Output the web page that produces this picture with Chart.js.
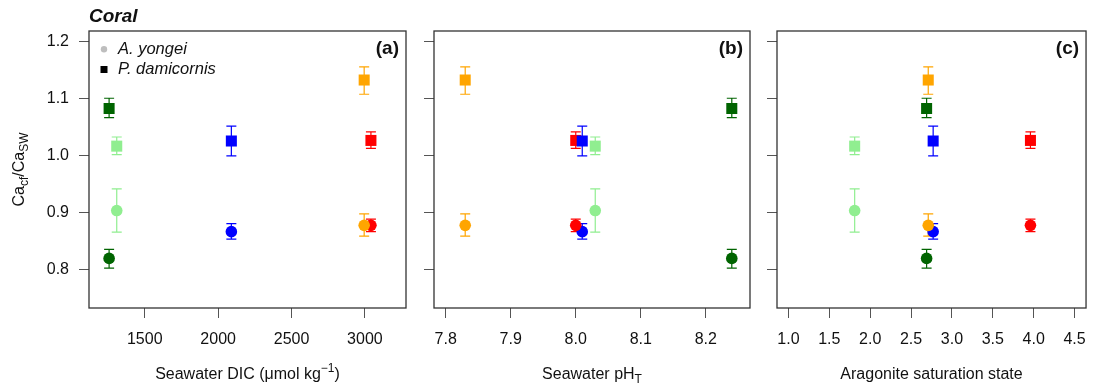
<!DOCTYPE html>
<html>
<head>
<meta charset="utf-8">
<script src="https://cdn.jsdelivr.net/npm/chart.js@4.4.1/dist/chart.umd.min.js"></script>
<style>
body { margin: 0; background: #fff; width: 1098px; height: 391px; overflow: hidden; position: relative; }
canvas { position: absolute; top: 0; }
</style>
</head>
<body>
<canvas id="pa" width="415" height="391" style="left:0px"></canvas>
<canvas id="pb" width="345" height="391" style="left:415px"></canvas>
<canvas id="pc" width="338" height="391" style="left:760px"></canvas>
<script>
// treatments, in the same order in every array below
const treatments = ['darkgreen', 'lightgreen', 'blue', 'orange', 'red'];
const colours = ['#006400', '#90ee90', '#0000ff', '#ffa500', '#ff0000'];

// seawater chemistry of each treatment
const dic = [1257, 1309, 2090, 2995, 3041];
const phT = [8.24, 8.03, 8.01, 7.83, 8.00];
const omega = [2.69, 1.81, 2.77, 2.71, 3.96];

// Ca_cf/Ca_sw, A. yongei (circles)
const yongei = [0.819, 0.903, 0.866, 0.877, 0.877];
const yongeiLo = [0.802, 0.865, 0.853, 0.858, 0.866];
const yongeiHi = [0.835, 0.941, 0.880, 0.897, 0.888];

// Ca_cf/Ca_sw, P. damicornis (squares)
const damicornis = [1.082, 1.016, 1.025, 1.132, 1.026];
const damicornisLo = [1.066, 1.001, 0.999, 1.107, 1.012];
const damicornisHi = [1.100, 1.032, 1.051, 1.155, 1.041];

// ticks
const yTicks = [0.8, 0.9, 1.0, 1.1, 1.2];
const dicTicks = [1500, 2000, 2500, 3000];
const phTicks = [7.8, 7.9, 8.0, 8.1, 8.2];
const omegaTicks = [1.0, 1.5, 2.0, 2.5, 3.0, 3.5, 4.0, 4.5];

// draw order, bottom first
const circleOrder = [0, 1, 2, 4, 3];
const squareOrder = [0, 1, 3, 4, 2];

const FONT = '"Liberation Sans", Arial, Helvetica, sans-serif';
const INK = '#111';

function richText(ctx, parts, x, y, size, rotate) {
    ctx.save();
    ctx.translate(x, y);
    if (rotate) ctx.rotate(-Math.PI / 2);
    const small = Math.round(size * 0.72);
    let w = 0;
    parts.forEach(p => {
        ctx.font = (p.sub || p.sup ? small : size) + 'px ' + FONT;
        w += ctx.measureText(p.t).width;
    });
    let cx = -w / 2;
    ctx.textAlign = 'left';
    ctx.textBaseline = 'alphabetic';
    ctx.fillStyle = INK;
    parts.forEach(p => {
        ctx.font = (p.sub || p.sup ? small : size) + 'px ' + FONT;
        const dy = p.sub ? size * 0.28 : (p.sup ? -size * 0.42 : 0);
        ctx.fillText(p.t, cx, size * 0.36 + dy);
        cx += ctx.measureText(p.t).width;
    });
    ctx.restore();
}

function buildDatasets(xs) {
    let sets = [];
    let k = 0;
    circleOrder.forEach(i => {
        sets.push({
            label: 'A. yongei ' + treatments[i],
            data: [{ x: xs[i], y: yongei[i] }],
            lo: [yongeiLo[i]], hi: [yongeiHi[i]],
            pointStyle: 'circle', pointRadius: 5.8,
            backgroundColor: colours[i], borderWidth: 0,
            order: 40 - k++
        });
    });
    squareOrder.forEach(i => {
        sets.push({
            label: 'P. damicornis ' + treatments[i],
            data: [{ x: xs[i], y: damicornis[i] }],
            lo: [damicornisLo[i]], hi: [damicornisHi[i]],
            pointStyle: 'rect', pointRadius: 7.8,
            backgroundColor: colours[i], borderWidth: 0,
            order: 40 - k++
        });
    });
    return sets;
}

const errorBars = {
    id: 'errorBars',
    beforeDatasetsDraw(chart) {
        const ctx = chart.ctx;
        const xs = chart.scales.x, ys = chart.scales.y;
        ctx.save();
        ctx.lineWidth = 1.2;
        chart.data.datasets.forEach(ds => {
            ds.data.forEach((p, j) => {
                const x = xs.getPixelForValue(p.x);
                const y1 = ys.getPixelForValue(ds.lo[j]);
                const y2 = ys.getPixelForValue(ds.hi[j]);
                ctx.strokeStyle = ds.backgroundColor;
                ctx.beginPath();
                ctx.moveTo(x, y1); ctx.lineTo(x, y2);
                ctx.moveTo(x - 5, y1); ctx.lineTo(x + 5, y1);
                ctx.moveTo(x - 5, y2); ctx.lineTo(x + 5, y2);
                ctx.stroke();
            });
        });
        ctx.restore();
    }
};

const frame = {
    id: 'frame',
    afterDraw(chart, args, opts) {
        const ctx = chart.ctx;
        const a = chart.chartArea;
        ctx.save();
        ctx.strokeStyle = '#333';
        ctx.lineWidth = 1.3;
        ctx.strokeRect(a.left, a.top, a.right - a.left, a.bottom - a.top);
        // panel letter
        ctx.fillStyle = INK;
        ctx.font = 'bold 19px ' + FONT;
        ctx.textAlign = 'right';
        ctx.textBaseline = 'middle';
        ctx.fillText(opts.letter, a.right - 7, a.top + 18);
        ctx.restore();
        richText(ctx, opts.xTitle, (a.left + a.right) / 2, 373, 16, false);
        if (opts.main) {
            ctx.save();
            ctx.fillStyle = INK;
            ctx.font = 'italic bold 19px ' + FONT;
            ctx.textAlign = 'left';
            ctx.textBaseline = 'alphabetic';
            ctx.fillText('Coral', a.left, 22);
            // legend
            ctx.fillStyle = '#bebebe';
            ctx.beginPath();
            ctx.arc(a.left + 15, 49.3, 3.2, 0, Math.PI * 2);
            ctx.fill();
            ctx.fillStyle = '#000';
            ctx.fillRect(a.left + 11.5, 66, 7, 7);
            ctx.fillStyle = INK;
            ctx.font = 'italic 16.5px ' + FONT;
            ctx.textBaseline = 'middle';
            ctx.fillText('A. yongei', a.left + 29, 49);
            ctx.fillText('P. damicornis', a.left + 29, 69);
            ctx.restore();
            richText(ctx, [{ t: 'Ca' }, { t: 'cf', sub: true }, { t: '/Ca' }, { t: 'SW', sub: true }],
                18, (a.top + a.bottom) / 2, 16, true);
        }
    }
};

function makePanel(id, xs, xTicks, xMin, xMax, xFmt, yWidth, padRight, letter, xTitle, main) {
    const gridOpts = { display: true, drawOnChartArea: false, drawTicks: true, tickLength: 10, color: '#555', lineWidth: 1 };
    new Chart(document.getElementById(id), {
        type: 'scatter',
        data: { datasets: buildDatasets(xs) },
        options: {
            responsive: false,
            animation: false,
            devicePixelRatio: 1,
            layout: { padding: { top: 31, right: padRight, bottom: 0, left: 0 } },
            plugins: { legend: { display: false }, tooltip: { enabled: false }, frame: { letter: letter, xTitle: xTitle, main: main } },
            scales: {
                x: {
                    type: 'linear', min: xMin, max: xMax,
                    afterBuildTicks: s => { s.ticks = xTicks.map(v => ({ value: v })); },
                    afterFit: s => { s.height = 83; },
                    grid: gridOpts,
                    border: { display: false },
                    ticks: { color: INK, font: { family: FONT, size: 16 }, padding: 12, maxRotation: 0, callback: xFmt }
                },
                y: {
                    type: 'linear', min: 0.732, max: 1.218,
                    afterBuildTicks: s => { s.ticks = yTicks.map(v => ({ value: v })); },
                    afterFit: s => { s.width = yWidth; },
                    grid: gridOpts,
                    border: { display: false },
                    ticks: { display: main, color: INK, font: { family: FONT, size: 16 }, padding: 10, callback: v => v.toFixed(1) }
                }
            }
        },
        plugins: [errorBars, frame]
    });
}

makePanel('pa', dic, dicTicks, 1120, 3280, v => String(v), 89, 9, '(a)',
    [{ t: 'Seawater DIC (μmol kg' }, { t: '−1', sup: true }, { t: ')' }], true);
makePanel('pb', phT, phTicks, 7.782, 8.268, v => v.toFixed(1), 19, 10, '(b)',
    [{ t: 'Seawater pH' }, { t: 'T', sub: true }], false);
makePanel('pc', omega, omegaTicks, 0.86, 4.64, v => v.toFixed(1), 17, 5, '(c)',
    [{ t: 'Aragonite saturation state' }], false);
</script>
</body>
</html>
